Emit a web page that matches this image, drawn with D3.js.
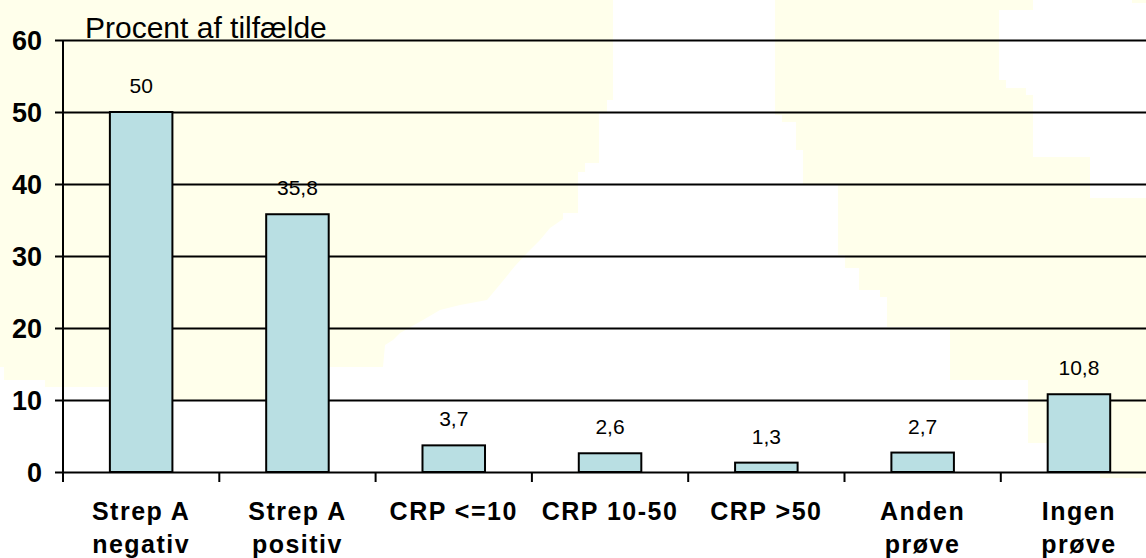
<!DOCTYPE html>
<html>
<head>
<meta charset="utf-8">
<script src="https://cdn.jsdelivr.net/npm/d3@7"></script>
<style>
  html, body { margin: 0; padding: 0; background: #ffffff; }
  svg { display: block; font-family: "Liberation Sans", Arial, sans-serif; }
</style>
</head>
<body>
<svg id="chart" width="1146" height="558"></svg>
<script>
// Categories (two-line axis labels) and their percentages
const categories = ["Strep A negativ", "Strep A positiv", "CRP <=10", "CRP 10-50", "CRP >50", "Anden prøve", "Ingen prøve"];
const labelLines = [["Strep A", "negativ"], ["Strep A", "positiv"], ["CRP <=10"], ["CRP 10-50"], ["CRP >50"], ["Anden", "prøve"], ["Ingen", "prøve"]];
const values = [50, 35.8, 3.7, 2.6, 1.3, 2.7, 10.8];
const valueLabels = ["50", "35,8", "3,7", "2,6", "1,3", "2,7", "10,8"];
const yTicks = [0, 10, 20, 30, 40, 50, 60];
const yTitle = "Procent af tilfælde";

const W = 1146, H = 558;
const svg = d3.select("#chart");

// Pale map-like backdrop
const pale = "#FFFFEB";
const backdrop = [
  [[0,0],[613,0],[613,100],[607,100],[607,113],[599,113],[599,163],[585,163],[585,172],[578,172],[578,213],[563,213],[563,219],
   [550,228],[540,240],[528,252],[515,266],[502,282],[487,300],[460,305],[440,310],[423,320],[400,333],[393,340],[385,345],
   [383,367],[327,367],[327,385],[265,385],[265,400],[171,400],[171,390],[108,390],[108,387],[45,387],[45,380],[4,380],[4,367],[0,367]],
  [[775,0],[1033,0],[1033,10],[999,10],[999,80],[1006,80],[1006,88],[1026,88],[1026,95],[1033,95],[1033,157],[1090,157],[1090,198],
   [1146,198],[1146,478],[1100,478],[1100,443],[1028,443],[1028,380],[950,380],[950,327],[887,327],[887,297],[880,297],[880,290],
   [859,290],[859,268],[845,268],[845,255],[838,255],[838,185],[803,185],[803,150],[796,150],[796,122],[782,122],[782,115],[775,115]],
  [[1132,0],[1146,0],[1146,3],[1132,3]]
];
svg.append("g").selectAll("path").data(backdrop).join("path")
  .attr("d", d => "M" + d.map(p => p.join(",")).join("L") + "Z")
  .attr("fill", pale);

// Scales
const x0 = 63, step = 156.3;
const x = d3.scaleBand().domain(categories)
  .range([x0, x0 + step * categories.length])
  .paddingInner(0.6).paddingOuter(0.3);
const y = d3.scaleLinear().domain([0, 60]).range([472, 40]);

// Horizontal gridlines with short ticks to the left of the axis
const grid = svg.append("g")
  .attr("transform", `translate(${x0},0)`)
  .call(d3.axisLeft(y).tickValues(yTicks).tickSize(-(W - x0 + 20)).tickFormat(""))
  .call(g => g.select(".domain").remove());
grid.selectAll(".tick line").attr("x1", -8).attr("stroke", "#000").attr("stroke-width", 2);

// Bars
svg.append("g").selectAll("rect").data(values).join("rect")
  .attr("x", (d, i) => x(categories[i]))
  .attr("y", d => y(d))
  .attr("width", x.bandwidth())
  .attr("height", d => y(0) - y(d))
  .attr("fill", "#B9DFE3")
  .attr("stroke", "#000")
  .attr("stroke-width", 2);

// Value labels above bars
svg.append("g").selectAll("text").data(values).join("text")
  .attr("x", (d, i) => x(categories[i]) + x.bandwidth() / 2)
  .attr("y", d => y(d) - 19)
  .attr("text-anchor", "middle")
  .attr("font-size", 21)
  .attr("fill", "#000")
  .text((d, i) => valueLabels[i]);

// Y axis line
svg.append("line")
  .attr("x1", x0).attr("x2", x0).attr("y1", y(60)).attr("y2", y(0) + 10)
  .attr("stroke", "#000").attr("stroke-width", 2);

// Category separator ticks below the baseline
const bounds = d3.range(categories.length + 1).map(i => x0 + i * step);
svg.append("g").selectAll("line").data(bounds).join("line")
  .attr("x1", d => d).attr("x2", d => d)
  .attr("y1", y(0)).attr("y2", y(0) + 10)
  .attr("stroke", "#000").attr("stroke-width", 2);

// Y tick labels
svg.append("g").selectAll("text").data(yTicks).join("text")
  .attr("x", 42)
  .attr("y", d => y(d))
  .attr("dy", "0.36em")
  .attr("text-anchor", "end")
  .attr("font-size", 27)
  .attr("font-weight", "bold")
  .text(d => d);

// Category labels
const xl = svg.append("g").selectAll("text").data(labelLines).join("text")
  .attr("text-anchor", "middle")
  .attr("font-size", 25)
  .attr("font-weight", "bold")
  .attr("letter-spacing", 1.5);
xl.selectAll("tspan").data((d, i) => d.map(s => ({ s, i }))).join("tspan")
  .attr("x", d => x(categories[d.i]) + x.bandwidth() / 2)
  .attr("y", (d, j) => 520 + j * 33)
  .text(d => d.s);

// Axis title
svg.append("text")
  .attr("x", 85).attr("y", 38)
  .attr("font-size", 30)
  .text(yTitle);
</script>
</body>
</html>
